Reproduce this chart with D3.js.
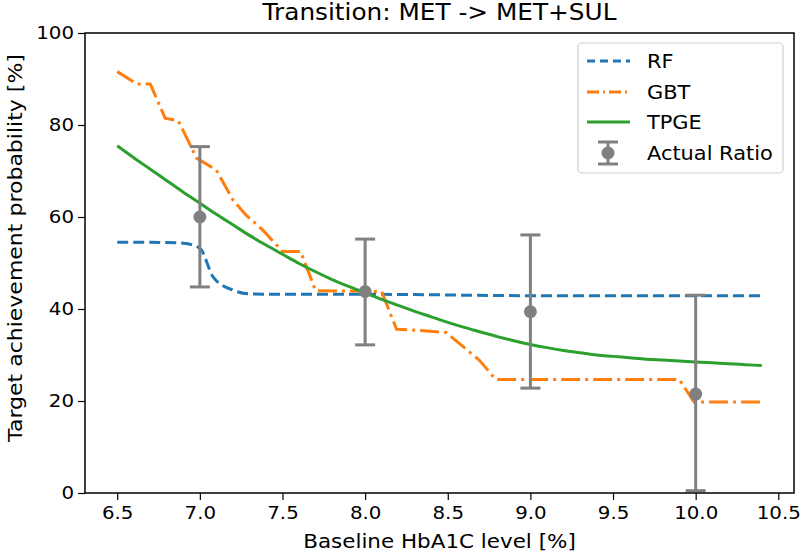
<!DOCTYPE html>
<html><head><meta charset="utf-8">
<script src="https://cdn.jsdelivr.net/npm/d3@7"></script>
<style>body{margin:0;background:#fff}svg text{font-family:"DejaVu Sans",sans-serif;fill:#000}</style>
</head><body><svg id="c" width="800" height="556"></svg>
<script>
const xGrid = [6.5,6.6,6.7,6.8,6.9,7.0,7.1,7.2,7.3,7.4,7.5,7.6,7.7,7.8,7.9,8.0,8.1,8.2,8.3,8.4,8.5,8.6,8.7,8.8,8.9,9.0,9.1,9.2,9.3,9.4,9.5,9.6,9.7,9.8,9.9,10.0,10.1,10.2,10.3,10.4];
const rfX = [6.5,6.7,6.9,7.0,7.08,7.2,7.3,7.5,8.0,9.0,10.0,10.4];
const rfY = [54.5,54.5,54.3,53.2,47.0,44.1,43.3,43.2,43.2,42.9,42.9,42.9];
const gbtX = [6.5,6.62,6.7,6.79,6.87,6.98,7.1,7.2,7.28,7.38,7.5,7.61,7.7,8.1,8.19,8.3,8.49,8.69,8.79,9.9,9.99,10.4];
const gbtY = [91.6,88.9,88.9,81.5,80.9,72.8,70.2,63.7,60.4,57.2,52.5,52.5,44.0,43.8,35.6,35.4,34.9,28.9,24.7,24.7,19.8,19.8];
const tpgeY = [75.5,72.9,70.4,67.9,65.4,63.0,60.6,58.3,56.0,53.9,51.9,49.9,48.1,46.4,44.9,43.5,42.1,40.8,39.5,38.3,37.1,36.0,35.0,34.0,33.1,32.3,31.6,31.0,30.5,30.0,29.7,29.4,29.1,28.9,28.7,28.5,28.3,28.1,27.9,27.7];
const arX = [7,8,9,10];
const arY = [60.0,43.8,39.4,21.5];
const arLo = [44.8,32.2,22.8,0.5];
const arHi = [75.3,55.2,56.1,43.0];
const xTicks = [6.5,7.0,7.5,8.0,8.5,9.0,9.5,10.0,10.5];
const yTicks = [0,20,40,60,80,100];
const legendLabels = ["RF","GBT","TPGE","Actual Ratio"];

const svg = d3.select("#c");
const L=85,R=794,T=33,B=493;
const x = d3.scaleLinear().domain([6.305,10.595]).range([L,R]);
const y = d3.scaleLinear().domain([0,100]).range([B,T]);

function stretch(sel){ sel.each(function(){ const w=this.getComputedTextLength(); this.setAttribute("textLength",(w*1.1).toFixed(2)); this.setAttribute("lengthAdjust","spacingAndGlyphs"); }); }

const gp = svg.append("g");
gp.append("defs").append("clipPath").attr("id","cp").append("rect").attr("x",L).attr("y",T).attr("width",R-L).attr("height",B-T);
const plot = gp.append("g").attr("clip-path","url(#cp)");

plot.append("path").datum(rfX.map((v,i)=>[v,rfY[i]])).attr("d",d3.line().x(d=>x(d[0])).y(d=>y(d[1])).curve(d3.curveMonotoneX))
  .attr("fill","none").attr("stroke","#1f77b4").attr("stroke-width",3).attr("stroke-dasharray","11,5");
plot.append("path").datum(gbtX.map((v,i)=>[v,gbtY[i]])).attr("d",d3.line().x(d=>x(d[0])).y(d=>y(d[1])))
  .attr("fill","none").attr("stroke","#ff7f0e").attr("stroke-width",3).attr("stroke-dasharray","19,5,3,5");
plot.append("path").datum(xGrid.map((v,i)=>[v,tpgeY[i]])).attr("d",d3.line().x(d=>x(d[0])).y(d=>y(d[1])).curve(d3.curveMonotoneX))
  .attr("fill","none").attr("stroke","#2ca02c").attr("stroke-width",3);

const eg = gp.append("g");
arX.forEach((v,i)=>{
  const cx = x(v);
  eg.append("line").attr("x1",cx).attr("x2",cx).attr("y1",y(arLo[i])).attr("y2",y(arHi[i])).attr("stroke","#808080").attr("stroke-width",3);
  [arLo[i],arHi[i]].forEach(e=>eg.append("line").attr("x1",cx-10).attr("x2",cx+10).attr("y1",y(e)).attr("y2",y(e)).attr("stroke","#808080").attr("stroke-width",3));
  eg.append("circle").attr("cx",cx).attr("cy",y(arY[i])).attr("r",6.5).attr("fill","#808080");
});

// axes
const xa = svg.append("g").attr("transform",`translate(0,${B})`).call(d3.axisBottom(x).tickValues(xTicks).tickFormat(d3.format(".1f")).tickSizeOuter(0).tickSize(7).tickPadding(6));
const ya = svg.append("g").attr("transform",`translate(${L},0)`).call(d3.axisLeft(y).tickValues(yTicks).tickFormat(d3.format("d")).tickSizeOuter(0).tickSize(7).tickPadding(4));
[xa,ya].forEach(a=>{a.select(".domain").remove();a.selectAll("line").attr("stroke","#000").attr("stroke-width",1.2);a.selectAll("text").attr("font-size",18).attr("font-family","DejaVu Sans");stretch(a.selectAll("text"));});
svg.append("rect").attr("x",L).attr("y",T).attr("width",R-L).attr("height",B-T).attr("fill","none").attr("stroke","#000").attr("stroke-width",1.5);

stretch(svg.append("text").attr("x",(L+R)/2).attr("y",20).attr("text-anchor","middle").attr("font-size",22.5).text("Transition: MET -> MET+SUL"));
stretch(svg.append("text").attr("x",(L+R)/2).attr("y",548).attr("text-anchor","middle").attr("font-size",19.5).text("Baseline HbA1C level [%]"));
stretch(svg.append("text").attr("transform",`translate(22,${(T+B)/2 - 15}) rotate(-90)`).attr("text-anchor","middle").attr("font-size",20).text("Target achievement probability [%]"));

// legend
const lg = svg.append("g");
lg.append("rect").attr("x",578).attr("y",43).attr("width",205).attr("height",130).attr("rx",4).attr("fill","#fff").attr("fill-opacity",0.8).attr("stroke","#d0d0d0").attr("stroke-width",1.2);
const ly = [61,92,122,153];
const styles = [["#1f77b4","8,5"],["#ff7f0e","12,4,2,4"],["#2ca02c",null]];
styles.forEach((s,i)=>{
  const l = lg.append("line").attr("x1",587).attr("x2",630).attr("y1",ly[i]).attr("y2",ly[i]).attr("stroke",s[0]).attr("stroke-width",3);
  if(s[1]) l.attr("stroke-dasharray", s[1]);
});
lg.append("line").attr("x1",608).attr("x2",608).attr("y1",ly[3]-11).attr("y2",ly[3]+11).attr("stroke","#808080").attr("stroke-width",3);
[-11,11].forEach(d=>lg.append("line").attr("x1",598).attr("x2",618).attr("y1",ly[3]+d).attr("y2",ly[3]+d).attr("stroke","#808080").attr("stroke-width",3));
lg.append("circle").attr("cx",608).attr("cy",ly[3]).attr("r",6.5).attr("fill","#808080");
legendLabels.forEach((t,i)=>stretch(lg.append("text").attr("x",647).attr("y",ly[i]+7).attr("font-size",19).text(t)));
</script></body></html>
